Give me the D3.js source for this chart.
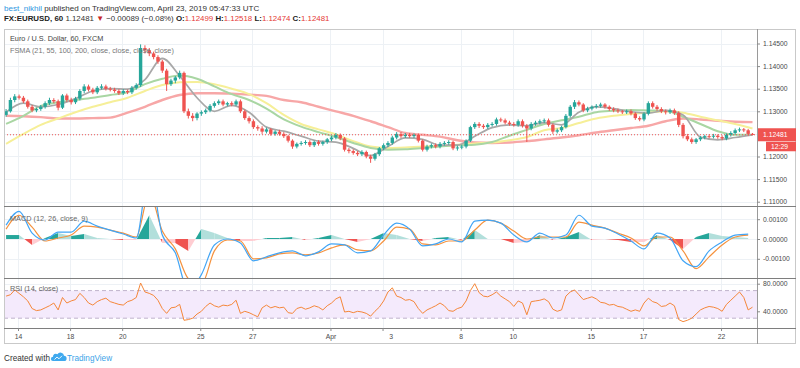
<!DOCTYPE html>
<html><head><meta charset="utf-8">
<script src="https://cdn.jsdelivr.net/npm/d3@7"></script>
<style>
body{margin:0;background:#fff;}
svg{display:block;font-family:"Liberation Sans",Arial,sans-serif;}
</style></head><body>
<svg id="c" width="800" height="368"></svg>
<script>
// ---------------- DATA ----------------
// time axis: hour index of each day boundary (hourly bars, weekends removed)
const dayTicks  = [13,61,109,181,229,301,349,421,469,541,589,661];
const dayLabels = ["14","18","20","25","27","Apr","3","8","10","15","17","22"];
const hoursPerBar = 4;          // candles read at 4-hour resolution
// EURUSD prices x 10000
const openP = [11292,11300,11325,11333,11330,11322,11310,11302,11305,11310,
11318,11325,11322,11308,11335,11325,11320,11328,11345,11355,
11348,11342,11352,11355,11350,11348,11345,11340,11345,11342,
11352,11358,11440,11435,11428,11420,11410,11390,11360,11368,
11375,11385,11300,11290,11285,11295,11298,11302,11312,11318,
11322,11315,11318,11315,11322,11300,11285,11278,11265,11262,
11255,11260,11250,11255,11250,11245,11235,11222,11228,11230,
11232,11225,11232,11228,11232,11238,11242,11248,11240,11215,
11212,11208,11205,11210,11200,11195,11205,11218,11225,11230,
11242,11250,11245,11248,11245,11248,11235,11215,11222,11225,
11222,11228,11230,11232,11218,11220,11222,11235,11265,11272,
11268,11265,11270,11272,11282,11280,11275,11272,11270,11278,
11268,11262,11272,11275,11278,11280,11270,11255,11258,11265,
11290,11310,11320,11315,11302,11306,11310,11312,11315,11310,
11305,11302,11300,11298,11300,11295,11285,11282,11295,11318,
11310,11305,11300,11298,11302,11296,11270,11245,11238,11232,
11238,11242,11245,11244,11246,11243,11240,11248,11252,11258,
11260,11258,11250];
const highP = [11305,11330,11338,11337,11334,11326,11314,11308,11314,11322,
11330,11329,11326,11338,11339,11330,11332,11349,11360,11359,
11352,11356,11360,11359,11354,11352,11349,11349,11348,11356,
11362,11448,11446,11440,11432,11424,11414,11394,11372,11378,
11390,11388,11306,11296,11298,11302,11306,11316,11322,11326,
11326,11321,11322,11326,11326,11304,11289,11282,11269,11267,
11264,11263,11258,11259,11254,11248,11238,11231,11234,11236,
11236,11235,11236,11235,11241,11246,11252,11251,11243,11219,
11216,11212,11214,11213,11204,11208,11221,11229,11234,11246,
11254,11254,11252,11252,11251,11251,11238,11226,11229,11229,
11232,11234,11236,11235,11224,11226,11238,11268,11276,11276,
11272,11274,11276,11286,11286,11284,11279,11276,11282,11282,
11272,11276,11279,11282,11284,11284,11273,11262,11268,11294,
11314,11325,11324,11318,11310,11313,11316,11319,11318,11313,
11309,11306,11303,11304,11304,11298,11289,11298,11322,11322,
11314,11309,11304,11306,11306,11300,11274,11250,11242,11241,
11245,11248,11249,11250,11249,11247,11251,11256,11262,11264,
11263,11261,11252];
const lowP = [11288,11297,11320,11326,11318,11306,11298,11298,11301,11306,
11314,11318,11302,11305,11321,11315,11316,11324,11340,11344,
11338,11338,11348,11346,11344,11341,11336,11336,11338,11338,
11348,11354,11428,11422,11415,11405,11385,11345,11356,11362,
11371,11296,11284,11278,11280,11290,11294,11298,11308,11314,
11311,11311,11311,11312,11296,11281,11273,11261,11257,11250,
11251,11246,11246,11246,11241,11231,11217,11218,11224,11226,
11221,11221,11224,11224,11228,11234,11238,11236,11211,11207,
11204,11201,11201,11196,11186,11191,11201,11214,11221,11226,
11238,11241,11241,11241,11241,11231,11211,11211,11218,11218,
11218,11224,11226,11214,11213,11216,11218,11232,11261,11263,
11261,11261,11266,11268,11276,11271,11268,11266,11266,11264,
11232,11258,11268,11271,11274,11266,11250,11251,11254,11262,
11286,11305,11311,11298,11298,11302,11306,11308,11306,11301,
11298,11296,11294,11294,11291,11281,11278,11278,11291,11306,
11301,11296,11293,11294,11292,11265,11240,11234,11228,11228,
11234,11238,11240,11240,11239,11236,11236,11244,11248,11254,
11254,11246,11247];
const closeP = [11300,11325,11333,11330,11322,11310,11302,11305,11310,11318,
11325,11322,11308,11335,11325,11320,11328,11345,11355,11348,
11342,11352,11355,11350,11348,11345,11340,11345,11342,11352,
11358,11440,11435,11428,11420,11410,11390,11360,11368,11375,
11385,11300,11290,11285,11295,11298,11302,11312,11318,11322,
11315,11318,11315,11322,11300,11285,11278,11265,11262,11255,
11260,11250,11255,11250,11245,11235,11222,11228,11230,11232,
11225,11232,11228,11232,11238,11242,11248,11240,11215,11212,
11208,11205,11210,11200,11195,11205,11218,11225,11230,11242,
11250,11245,11248,11245,11248,11235,11215,11222,11225,11222,
11228,11230,11232,11218,11220,11222,11235,11265,11272,11268,
11265,11270,11272,11282,11280,11275,11272,11270,11278,11268,
11262,11272,11275,11278,11280,11270,11255,11258,11265,11290,
11310,11320,11315,11302,11306,11310,11312,11315,11310,11305,
11302,11300,11298,11300,11295,11285,11282,11295,11318,11310,
11305,11300,11298,11302,11296,11270,11245,11238,11232,11238,
11242,11245,11244,11246,11243,11240,11248,11252,11258,11260,
11258,11250,11248];
const lastPrice = 1.12481;
const countdown = "12:29";
// moving averages (x 10000), one value every 4 candles
const maStep = 4;
const sma21 = [11298,11318,11310,11315,11328,11345,11350,11349,11370,11417,11378,11330,11300,11313,11298,11265,11256,11245,11234,11232,11218,11202,11222,11241,11238,11225,11225,11245,11264,11270,11268,11275,11270,11298,11310,11306,11299,11296,11302,11292,11243,11237,11242,11248];
const sma55 = [11272,11290,11312,11320,11325,11330,11336,11342,11360,11372,11379,11372,11355,11338,11325,11306,11282,11266,11254,11243,11230,11219,11215,11216,11219,11222,11225,11226,11232,11246,11259,11272,11280,11288,11298,11301,11303,11302,11301,11288,11272,11256,11248,11248];
const sma100 = [11228,11250,11270,11284,11298,11310,11320,11330,11345,11358,11364,11365,11360,11350,11338,11318,11292,11272,11260,11249,11234,11222,11219,11220,11222,11223,11226,11229,11231,11236,11243,11258,11263,11274,11284,11290,11294,11297,11300,11297,11288,11280,11272,11262];
const sma200 = [11290,11289,11287,11284,11284,11285,11286,11297,11310,11325,11336,11340,11340,11339,11337,11334,11325,11320,11310,11300,11290,11278,11265,11252,11248,11244,11236,11231,11230,11231,11234,11238,11242,11247,11253,11258,11263,11268,11278,11284,11282,11279,11277,11276];
// MACD (12,26,9) x 1e-5, one value every 3 candles
const macdStep = 3;
const macdLine = [70,140,30,-5,35,35,90,65,45,25,5,350,20,-70,-260,-180,-30,0,-20,-110,-90,-70,-60,-85,-65,-25,-30,-70,-60,20,80,50,-35,-25,0,-15,90,95,80,20,-15,30,5,20,120,65,55,25,-10,-50,30,5,-110,-140,-60,-15,20,25];
const signalLine = [50,120,60,-10,5,20,65,60,45,30,10,230,40,-50,-200,-230,-60,-5,-10,-100,-95,-75,-70,-80,-70,-45,-30,-55,-60,-10,60,50,-25,-30,-10,-10,45,95,80,40,0,10,10,10,85,70,55,30,5,-35,10,10,-60,-150,-90,-30,10,20];
// RSI(14), one value per candle
const rsi = [62,64,71,66,61,55,44,41,42,45,48,52,42,60,52,55,57,66,60,52,
49,54,57,59,54,52,50,49,54,56,60,81,68,66,63,56,44,37,45,46,
50,27,28,30,36,40,47,52,48,46,49,48,50,56,37,40,38,35,32,45,
49,45,47,45,46,38,37,44,46,43,45,48,46,42,48,52,58,61,39,40,
38,40,39,37,33,40,46,55,68,74,62,60,56,57,54,44,37,42,45,48,
52,48,41,40,44,46,55,70,80,67,62,61,64,68,62,58,54,47,55,52,
35,54,55,56,58,54,43,40,42,62,68,71,64,57,59,61,58,53,52,49,
50,47,46,43,40,42,40,52,59,54,52,47,48,52,48,28,25,27,30,36,
42,45,47,46,44,40,50,56,62,68,60,42,46];
const priceTicks = [1.11,1.115,1.12,1.125,1.13,1.135,1.14,1.145];
const priceLabelTicks = [1.11,1.115,1.12,1.13,1.135,1.14,1.145];
const macdTicks = [-0.001,0,0.001];
const rsiTicks = [40,80];
const rsiBand = [30,70];

// ---------------- LAYOUT ----------------
const svg = d3.select("#c");
const L = 4, R = 757, FR = 796, T = 29;
const mainB = 206, macdB = 278, rsiB = 328, axB = 344;
const gridC = "#edf1f5";
const up = "#26a69a", dn = "#ef5350";

const x  = d3.scaleLinear().domain([0, 690]).range([3.9, 752.5]);
const yP = d3.scaleLinear().domain([1.11, 1.145]).range([201.7, 43.5]);
const yM = d3.scaleLinear().domain([-0.001, 0.001]).range([258.8, 219.2]);
const yR = d3.scaleLinear().domain([40, 80]).range([311.3, 283.7]);
const P = v => v / 1e4;
const barHour = k => k * hoursPerBar + hoursPerBar / 2;

svg.append("rect").attr("width", 800).attr("height", 368).attr("fill", "#fff");

// clip paths
const defs = svg.append("defs");
[["cm", T, mainB], ["cd", mainB, macdB], ["cr", macdB, rsiB]].forEach(([id, a, b]) => {
  defs.append("clipPath").attr("id", id).append("rect")
    .attr("x", L).attr("y", a).attr("width", R - L).attr("height", b - a);
});

// vertical grid
[[T, mainB], [mainB, macdB], [macdB, rsiB]].forEach(([a, b]) => {
  svg.append("g").selectAll("line").data(dayTicks).join("line")
    .attr("x1", d => Math.round(x(d)) + 0.5).attr("x2", d => Math.round(x(d)) + 0.5)
    .attr("y1", a).attr("y2", b).attr("stroke", gridC);
});
// horizontal grid
svg.append("g").selectAll("line").data(priceTicks).join("line")
  .attr("x1", L).attr("x2", R).attr("y1", d => Math.round(yP(d)) + 0.5).attr("y2", d => Math.round(yP(d)) + 0.5)
  .attr("stroke", gridC);
svg.append("g").selectAll("line").data(macdTicks).join("line")
  .attr("x1", L).attr("x2", R).attr("y1", d => Math.round(yM(d)) + 0.5).attr("y2", d => Math.round(yM(d)) + 0.5)
  .attr("stroke", gridC);
svg.append("g").selectAll("line").data(rsiTicks).join("line")
  .attr("x1", L).attr("x2", R).attr("y1", d => Math.round(yR(d)) + 0.5).attr("y2", d => Math.round(yR(d)) + 0.5)
  .attr("stroke", gridC);

// ---------------- MAIN PANE ----------------
const gMain = svg.append("g").attr("clip-path", "url(#cm)");
const maLine = d3.line().x((d, j) => x(barHour(j * maStep))).y(d => yP(P(d))).curve(d3.curveMonotoneX);
[[sma200, "#f7a7a7", 2.4], [sma100, "#f6ef98", 2], [sma55, "#a9d6a3", 2], [sma21, "#a8a8a8", 1.7]].forEach(([arr, col, w]) => {
  gMain.append("path").attr("d", maLine(arr)).attr("fill", "none").attr("stroke", col).attr("stroke-width", w);
});
const cw = 3.4;
const candles = gMain.append("g").selectAll("g").data(closeP.map((c, k) => ({k, o: openP[k], h: highP[k], l: lowP[k], c}))).join("g");
candles.append("line")
  .attr("x1", d => x(barHour(d.k))).attr("x2", d => x(barHour(d.k)))
  .attr("y1", d => yP(P(d.h))).attr("y2", d => yP(P(d.l)))
  .attr("stroke", d => d.c >= d.o ? up : dn).attr("stroke-width", 1);
candles.append("rect")
  .attr("x", d => x(barHour(d.k)) - cw / 2).attr("width", cw)
  .attr("y", d => yP(P(Math.max(d.o, d.c))))
  .attr("height", d => Math.max(1, yP(P(Math.min(d.o, d.c))) - yP(P(Math.max(d.o, d.c)))))
  .attr("fill", d => d.c >= d.o ? up : dn);
// last price dotted line
svg.append("line").attr("x1", L).attr("x2", R).attr("y1", yP(lastPrice)).attr("y2", yP(lastPrice))
  .attr("stroke", dn).attr("stroke-dasharray", "1,2").attr("stroke-width", 1);

// ---------------- MACD PANE ----------------
const gMacd = svg.append("g").attr("clip-path", "url(#cd)");
const hist = macdLine.map((m, j) => m - signalLine[j]);
const mx = j => x(barHour(j * macdStep));
const area = d3.area().x(d => d[0]).y0(yM(0)).y1(d => yM(d[1] * 1e-5));
for (let j = 0; j < hist.length - 1; j++) {
  const a = hist[j], b = hist[j + 1];
  const xa = mx(j), xb = mx(j + 1);
  let segs = [];
  if ((a >= 0 && b >= 0) || (a <= 0 && b <= 0)) segs.push([[xa, a], [xb, b]]);
  else { const t = a / (a - b); const xc = xa + t * (xb - xa); segs.push([[xa, a], [xc, 0]]); segs.push([[xc, 0], [xb, b]]); }
  segs.forEach(s => {
    const v = s[0][1] + s[1][1];
    const rising = b >= a;
    const col = v >= 0 ? (rising ? up : "#b2dfdb") : (rising ? "#ffcdd2" : dn);
    gMacd.append("path").attr("d", area(s)).attr("fill", col);
  });
}
const mLine = d3.line().x((d, j) => mx(j)).y(d => yM(d * 1e-5)).curve(d3.curveMonotoneX);
gMacd.append("path").attr("d", mLine(signalLine)).attr("fill", "none").attr("stroke", "#f5923e").attr("stroke-width", 1.2);
gMacd.append("path").attr("d", mLine(macdLine)).attr("fill", "none").attr("stroke", "#42a5f5").attr("stroke-width", 1.2);

// ---------------- RSI PANE ----------------
const gRsi = svg.append("g").attr("clip-path", "url(#cr)");
gRsi.append("rect").attr("x", L).attr("width", R - L).attr("y", yR(rsiBand[1])).attr("height", yR(rsiBand[0]) - yR(rsiBand[1]))
  .attr("fill", "#f4eafc");
gRsi.selectAll("line.band").data(rsiBand).join("line").attr("class", "band")
  .attr("x1", L).attr("x2", R).attr("y1", d => yR(d)).attr("y2", d => yR(d))
  .attr("stroke", "#bfb2cc").attr("stroke-dasharray", "4,3");
const rLine = d3.line().x((d, k) => x(barHour(k))).y(d => yR(d));
gRsi.append("path").attr("d", rLine(rsi)).attr("fill", "none").attr("stroke", "#f5873a").attr("stroke-width", 1);

// ---------------- FRAME ----------------
svg.append("rect").attr("x", L + 0.5).attr("y", T + 0.5).attr("width", FR - L - 1).attr("height", axB - T - 1)
  .attr("fill", "none").attr("stroke", "#c9c9c9");
svg.append("line").attr("x1", R + 0.5).attr("x2", R + 0.5).attr("y1", T).attr("y2", axB).attr("stroke", "#9a9a9a");
[mainB, macdB, rsiB].forEach(yy => svg.append("line").attr("x1", L).attr("x2", FR).attr("y1", yy + 0.5).attr("y2", yy + 0.5).attr("stroke", "#7e7e7e"));

// ---------------- AXES ----------------
function styleAxis(g) {
  g.select(".domain").remove();
  g.selectAll("line").attr("stroke", "#8a8a8a");
  g.selectAll("text").attr("fill", "#4a4a4a").style("font-size", "6.8px").style("font-family", '"Liberation Sans",Arial,sans-serif');
}
svg.append("g").attr("transform", `translate(${R},0)`)
  .call(d3.axisRight(yP).tickValues(priceLabelTicks).tickFormat(d3.format(".5f")).tickSize(3).tickPadding(3)).call(styleAxis);
svg.append("g").attr("transform", `translate(${R},0)`)
  .call(d3.axisRight(yM).tickValues(macdTicks).tickFormat(d => d3.format(".5f")(d).replace("\u2212", "-")).tickSize(3).tickPadding(3)).call(styleAxis);
svg.append("g").attr("transform", `translate(${R},0)`)
  .call(d3.axisRight(yR).tickValues(rsiTicks).tickFormat(d3.format(".4f")).tickSize(3).tickPadding(3)).call(styleAxis);
const xa = svg.append("g").attr("transform", `translate(0,${rsiB})`)
  .call(d3.axisBottom(x).tickValues(dayTicks).tickFormat((d, i) => dayLabels[i]).tickSize(3).tickPadding(3)).call(styleAxis);
xa.selectAll("text").filter(d => d === 349).attr("dx", 8);

// last price label
const ly = yP(lastPrice);
svg.append("rect").attr("x", R + 1).attr("y", ly - 6.5).attr("width", FR - R - 1).attr("height", 13).attr("fill", dn);
svg.append("text").attr("x", R + 6).attr("y", ly + 2.5).attr("fill", "#fff").style("font-size", "6.8px").text(lastPrice.toFixed(5));
svg.append("rect").attr("x", 766).attr("y", ly + 7).attr("width", FR - 766).attr("height", 9.5).attr("fill", dn);
svg.append("text").attr("x", 771).attr("y", ly + 14.3).attr("fill", "#fff").style("font-size", "6.8px").text(countdown);

// ---------------- TEXTS ----------------
const t1 = svg.append("text").attr("x", 4).attr("y", 10.5).style("font-size", "8.05px").attr("fill", "#333");
t1.append("tspan").attr("fill", "#2f96e0").text("best_nikhil");
t1.append("tspan").text(" published on TradingView.com, April 23, 2019 05:47:33 UTC");
const t2 = svg.append("text").attr("x", 4).attr("y", 21).style("font-size", "7.9px").attr("fill", "#333");
t2.append("tspan").attr("font-weight", "bold").attr("fill", "#222").text("FX:EURUSD, 60");
t2.append("tspan").text(" 1.12481 ");
t2.append("tspan").attr("fill", "#c62828").text("\u25BC");
t2.append("tspan").text(" \u22120.00089 (\u22120.08%) ");
[["O:", "1.12499"], [" H:", "1.12518"], [" L:", "1.12474"], [" C:", "1.12481"]].forEach(([k, v]) => {
  t2.append("tspan").attr("font-weight", "bold").attr("fill", "#222").text(k);
  t2.append("tspan").attr("fill", "#e53935").text(v);
});
svg.append("text").attr("x", 10).attr("y", 41).style("font-size", "7.3px").attr("fill", "#444").text("Euro / U.S. Dollar, 60, FXCM");
svg.append("text").attr("x", 10).attr("y", 52.5).style("font-size", "7.3px").attr("fill", "#777").text("FSMA (21, 55, 100, 200, close, close, close, close)");
svg.append("text").attr("x", 10).attr("y", 220.5).style("font-size", "7.3px").attr("fill", "#666").text("MACD (12, 26, close, 9)");
svg.append("text").attr("x", 10).attr("y", 290.5).style("font-size", "7.3px").attr("fill", "#666").text("RSI (14, close)");

// footer
svg.append("text").attr("x", 4).attr("y", 361).style("font-size", "8.2px").attr("fill", "#333").text("Created with");
const logo = svg.append("g");
logo.append("path").attr("d", "M53,361 h11 a2.6,2.6 0 0 0 0,-5.2 a3.6,3.6 0 0 0 -6.6,-1.6 a2.8,2.8 0 0 0 -4.4,2.6 a2.1,2.1 0 0 0 0,4.2 z").attr("fill", "#3fa9ee");
logo.append("path").attr("d", "M54.5,359.5 l2.5,-2.5 l2,1.8 l3,-3").attr("fill", "none").attr("stroke", "#fff").attr("stroke-width", 0.9);
svg.append("text").attr("x", 67).attr("y", 361).style("font-size", "8.2px").attr("fill", "#3ba3e8").text("TradingView");
</script>
</body></html>
